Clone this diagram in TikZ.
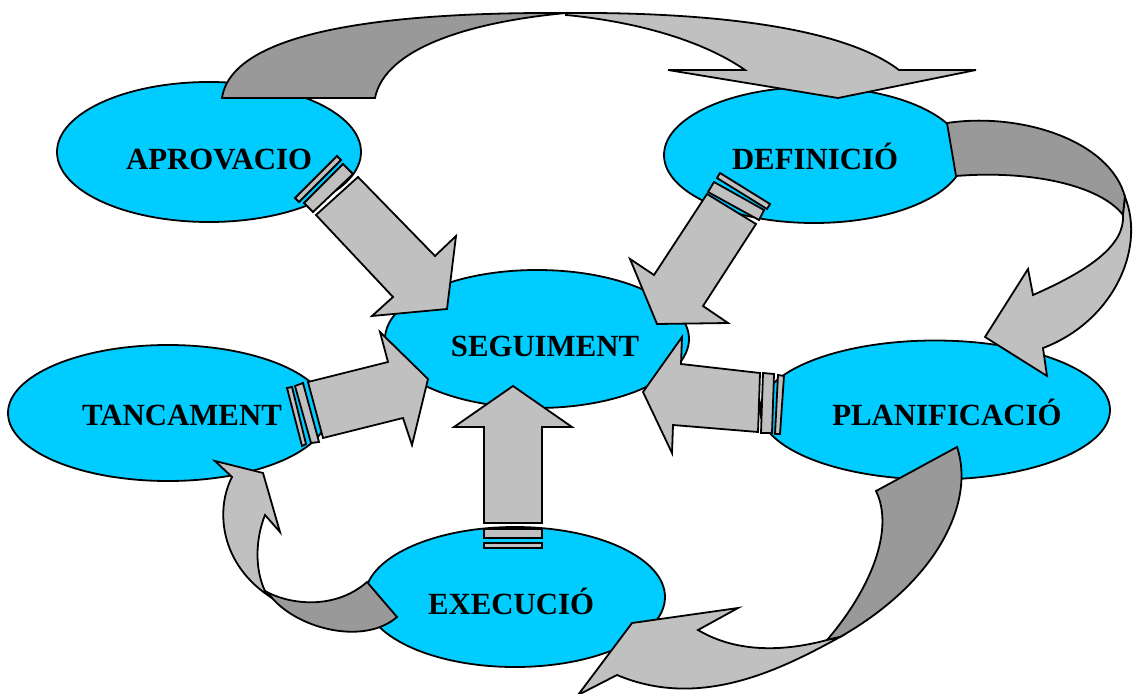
\documentclass[tikz,border=0pt]{standalone}
\usepackage{fontspec}
\setmainfont{Liberation Serif}
\usetikzlibrary{shapes.geometric}
\definecolor{bubblecyan}{HTML}{00CCFF}
\definecolor{ribbonlight}{HTML}{C0C0C0}
\definecolor{ribbondark}{HTML}{999999}
\tikzset{
  bubble/.style={ellipse, draw=black, line width=1.8pt, fill=bubblecyan, inner sep=0pt, outer sep=0pt},
  lbl/.style={font=\fontsize{30.8}{36}\selectfont\bfseries, anchor=base, inner sep=0pt},
  front/.style={draw=black, line width=1.8pt, fill=ribbonlight, line join=miter},
  back/.style={draw=black, line width=1.8pt, fill=ribbondark, line join=miter},
}
\begin{document}
\begin{tikzpicture}[x=1pt,y=-1pt]
\useasboundingbox (0,0) rectangle (1134,693);

% phase bubbles
\node[bubble, minimum width=304pt, minimum height=140pt] (aprov) at (209,152) {};
\node[bubble, minimum width=300pt, minimum height=136pt] (defin) at (814,155) {};
\node[bubble, minimum width=304pt, minimum height=138pt] (segui) at (537,339) {};
\node[bubble, minimum width=320pt, minimum height=136pt] (tanca) at (168,413) {};
\node[bubble, minimum width=350pt, minimum height=139pt] (plani) at (935,410) {};
\node[bubble, minimum width=300pt, minimum height=140pt] (execu) at (515,597) {};

% cycle ribbons (back face dark, front face light)
% aprovacio -> definicio
\draw[back] (222,98) .. controls (232,30) and (390,12) .. (566,13)
  .. controls (470,22) and (385,48) .. (375,98) -- cycle;
\draw[front] (566,13) .. controls (700,12) and (840,25) .. (899,70)
  -- (976,70) -- (838,98) -- (668,70) -- (745,70)
  .. controls (705,42) and (640,22) .. (566,15) -- cycle;

% definicio -> planificacio
\draw[back] (947,123) .. controls (1020,112) and (1110,140) .. (1125,197)
  -- (1123,215) .. controls (1100,185) and (1030,170) .. (956,176) -- cycle;
\draw[front] (1125,197) .. controls (1146,250) and (1112,322) .. (1043,348)
  -- (1047,376) -- (985,337) -- (1028,269) -- (1033,295)
  .. controls (1090,270) and (1125,245) .. (1123,215) -- cycle;

% planificacio -> execucio
\draw[back] (957,447) .. controls (975,500) and (940,580) .. (840,637)
  -- (827,640) .. controls (870,590) and (895,530) .. (876,491) -- cycle;
\draw[front] (840,637) .. controls (780,670) and (700,710) .. (617,675)
  -- (578,695) -- (632,623) -- (738,608) -- (698,630)
  .. controls (740,655) and (790,650) .. (827,640) -- cycle;

% execucio -> tancament
\draw[back] (367,582) .. controls (335,610) and (290,605) .. (265,591)
  -- (272,598) .. controls (300,630) and (365,645) .. (397,617) -- cycle;
\draw[front] (265,591) .. controls (255,570) and (255,540) .. (265,515)
  -- (280,532) -- (263,473) -- (215,461) -- (232,477)
  .. controls (215,510) and (220,565) .. (272,598) -- cycle;

% block arrows into the central bubble, each with two collar bands
% aprovacio -> seguiment
\draw[front] (295,198) -- (337,156) -- (341,160) -- (299,202) -- cycle;
\draw[front] (304,203) -- (343,164) -- (353,174) -- (313,212) -- cycle;
\draw[front] (316,215) -- (358,177) -- (435,256) -- (456,236) -- (447,309)
  -- (372,316) -- (393,297) -- cycle;

% definicio -> seguiment
\draw[front] (720,173) -- (770,204) -- (767,209) -- (717,178) -- cycle;
\draw[front] (714,182) -- (764,210) -- (759,220) -- (708,192) -- cycle;
\draw[front] (707,194) -- (756,224) -- (703,306) -- (728,323) -- (657,324)
  -- (630,259) -- (654,275) -- cycle;

% tancament -> seguiment
\draw[front] (287,388) -- (292,387) -- (306,444) -- (302,446) -- cycle;
\draw[front] (295,386) -- (303,383) -- (319,442) -- (311,443) -- cycle;
\draw[front] (308,382) -- (388,362) -- (380,332) -- (428,379) -- (412,445)
  -- (403,418) -- (323,438) -- cycle;

% planificacio -> seguiment
\draw[front] (778,375) -- (784,376) -- (780,434) -- (775,434) -- cycle;
\draw[front] (763,373) -- (774,374) -- (772,433) -- (761,433) -- cycle;
\draw[front] (760,373) -- (758,432) -- (673,425) -- (672,453) -- (643,392)
  -- (682,337) -- (681,364) -- cycle;

% execucio -> seguiment
\draw[front] (484,543) rectangle (542,548);
\draw[front] (484,529) rectangle (542,538);
\draw[front] (484,523) -- (484,427) -- (454,427) -- (513,386) -- (572,427)
  -- (542,427) -- (542,523) -- cycle;

% phase names
\node[lbl] (taprov) at (219,169) {APROVACIO};
\node[lbl] (tdefin) at (815,169) {DEFINICIÓ};
\node[lbl] (tsegui) at (545,356) {SEGUIMENT};
\node[lbl] (ttanca) at (182,425) {TANCAMENT};
\node[lbl] (tplani) at (947,425) {PLANIFICACIÓ};
\node[lbl] (texecu) at (511,614) {EXECUCIÓ};
\end{tikzpicture}
\end{document}
